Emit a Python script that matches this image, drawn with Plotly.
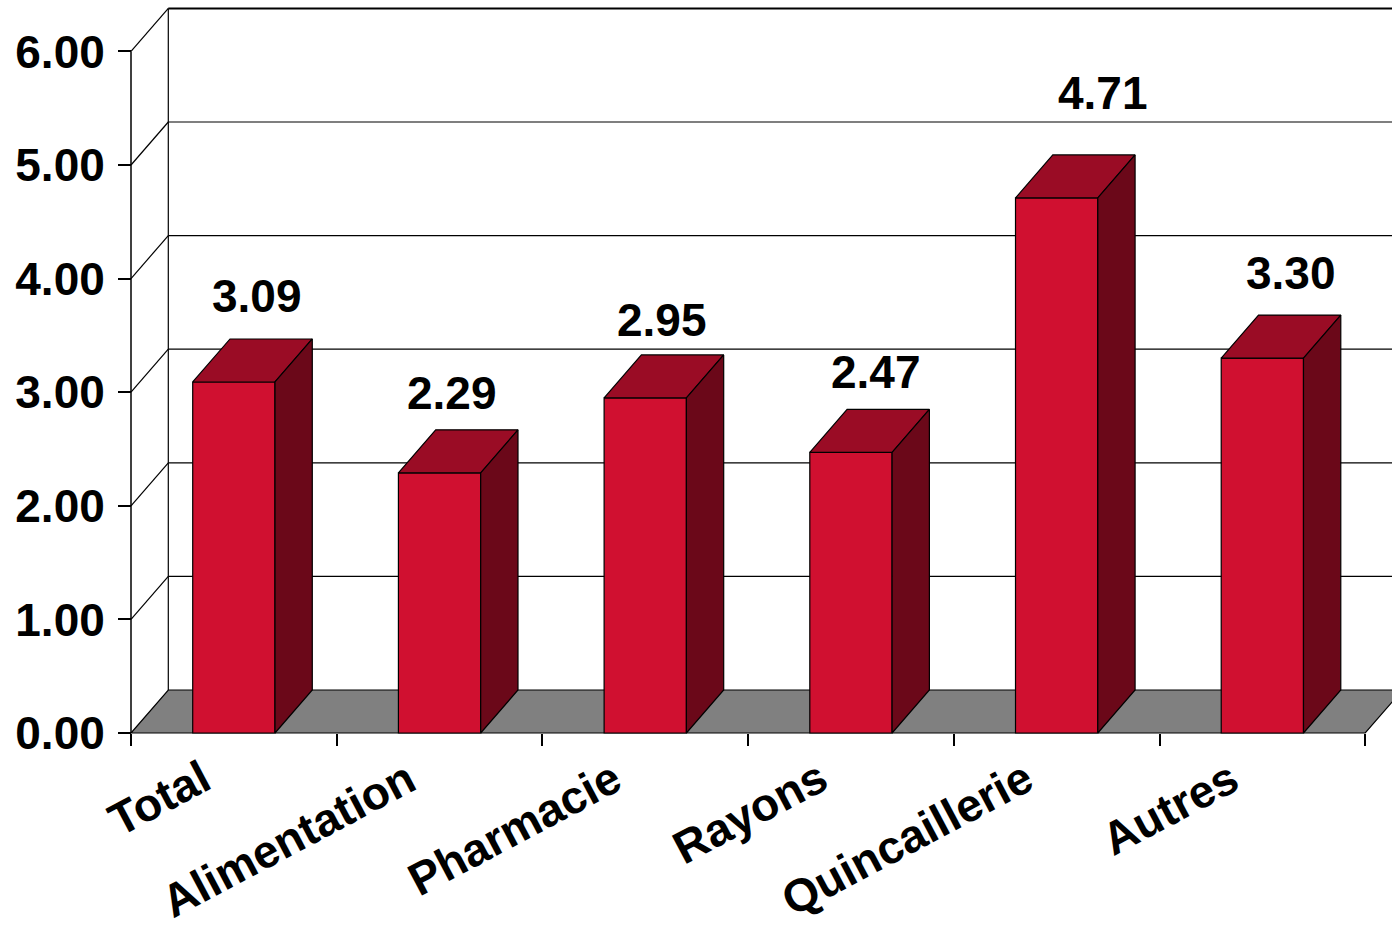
import plotly.graph_objects as go

# Data
categories = ["Total", "Alimentation", "Pharmacie", "Rayons", "Quincaillerie", "Autres"]
values = [3.09, 2.29, 2.95, 2.47, 4.71, 3.30]
y_ticks = [0, 1, 2, 3, 4, 5, 6]
y_tick_labels = ["0.00", "1.00", "2.00", "3.00", "4.00", "5.00", "6.00"]

# Value label nudges (pixels) relative to the top of each bar's front face
label_dx = [23, 12, 17, 25, 46, 29]
label_dy = [86, 80, 78, 80, 105, 85]

# Geometry of the pseudo-3D frame
W, H = 1392, 929
PX_CAT = 205.7          # pixels per category
PX_VAL = 113.6          # pixels per value unit
X0_PX, Y0_PX = 131, 733 # pixel position of the front origin
DX = 37.3 / PX_CAT      # depth offset, category units
DY = 43.0 / PX_VAL      # depth offset, value units
BAR_HALF = 0.2
YMAX = 6
N = len(categories)

FRONT = "#D01030"
TOP = "#9A0C25"
SIDE = "#6B0819"
FLOOR = "#808080"
FONT = dict(family="Liberation Sans, Arial, sans-serif", size=46, color="black", weight="bold")

x_range = [-X0_PX / PX_CAT, (W - X0_PX) / PX_CAT]
y_range = [-(H - Y0_PX) / PX_VAL, Y0_PX / PX_VAL]

fig = go.Figure()

shapes = []
line_k = dict(color="black", width=1.2)
# left wall and back wall (white)
shapes.append(dict(type="path", xref="x", yref="y", layer="below",
                   path=f"M0,0 L{DX},{DY} L{DX},{YMAX + DY} L0,{YMAX} Z",
                   fillcolor="white", line=dict(width=0)))
# gridlines on back wall and matching diagonals on left wall
for k in y_ticks[1:]:
    shapes.append(dict(type="line", xref="x", yref="y", layer="below",
                       x0=DX, y0=k + DY, x1=N + DX, y1=k + DY,
                       line=dict(color="black", width=2 if k == YMAX else 1.2)))
    shapes.append(dict(type="line", xref="x", yref="y", layer="below",
                       x0=0, y0=k, x1=DX, y1=k + DY, line=line_k))
# back wall left edge
shapes.append(dict(type="line", xref="x", yref="y", layer="below",
                   x0=DX, y0=DY, x1=DX, y1=YMAX + DY, line=line_k))
# front value axis
shapes.append(dict(type="line", xref="x", yref="y", layer="below",
                   x0=0, y0=0, x1=0, y1=YMAX, line=dict(color="black", width=1.5)))
# floor
shapes.append(dict(type="path", xref="x", yref="y", layer="below",
                   path=f"M0,0 L{N},0 L{N + DX},{DY} L{DX},{DY} Z",
                   fillcolor=FLOOR, line=dict(color="black", width=1.2)))

# front faces of the bars
fig.add_trace(go.Bar(
    x=[i + 0.5 for i in range(N)], y=values, width=2 * BAR_HALF,
    marker=dict(color=FRONT, line=dict(color="black", width=1.2)),
    hoverinfo="skip", showlegend=False,
))

# top and side faces
top_x, top_y, side_x, side_y = [], [], [], []
for i, v in enumerate(values):
    l, r = i + 0.5 - BAR_HALF, i + 0.5 + BAR_HALF
    top_x += [l, r, r + DX, l + DX, l, None]
    top_y += [v, v, v + DY, v + DY, v, None]
    side_x += [r, r + DX, r + DX, r, r, None]
    side_y += [0, DY, v + DY, v, 0, None]

fig.add_trace(go.Scatter(x=top_x, y=top_y, mode="lines", fill="toself",
                         fillcolor=TOP, line=dict(color="black", width=1.2),
                         hoverinfo="skip", showlegend=False))
fig.add_trace(go.Scatter(x=side_x, y=side_y, mode="lines", fill="toself",
                         fillcolor=SIDE, line=dict(color="black", width=1.2),
                         hoverinfo="skip", showlegend=False))

annotations = []
for i, v in enumerate(values):
    annotations.append(dict(x=i + 0.5, y=v, xref="x", yref="y",
                            text=f"{v:.2f}", showarrow=False,
                            xanchor="center", yanchor="middle",
                            xshift=label_dx[i], yshift=label_dy[i], font=FONT))
    annotations.append(dict(x=i + 0.5, y=0, xref="x", yref="y",
                            text=categories[i], showarrow=False, borderpad=0,
                            xanchor="right", yanchor="top", textangle=-28,
                            xshift=-14, yshift=-16, font=FONT))

fig.update_layout(
    width=W, height=H,
    margin=dict(l=0, r=0, t=0, b=0),
    paper_bgcolor="white", plot_bgcolor="white",
    shapes=shapes, annotations=annotations,
    xaxis=dict(range=x_range, showgrid=False, zeroline=False, showline=False,
               anchor="free", position=(H - Y0_PX) / H,
               tickvals=list(range(N + 1)), ticks="outside", ticklen=12,
               tickcolor="black", tickwidth=1.5, showticklabels=False,
               automargin=False, fixedrange=True),
    yaxis=dict(range=y_range, showgrid=False, zeroline=False, showline=False,
               anchor="free", position=X0_PX / W, side="left",
               tickvals=y_ticks, ticktext=y_tick_labels, ticks="outside",
               ticklen=13, tickcolor="black", tickwidth=1.5,
               ticklabelstandoff=4,
               tickfont=FONT, automargin=False, fixedrange=True),
)

fig.write_html("out.html")
